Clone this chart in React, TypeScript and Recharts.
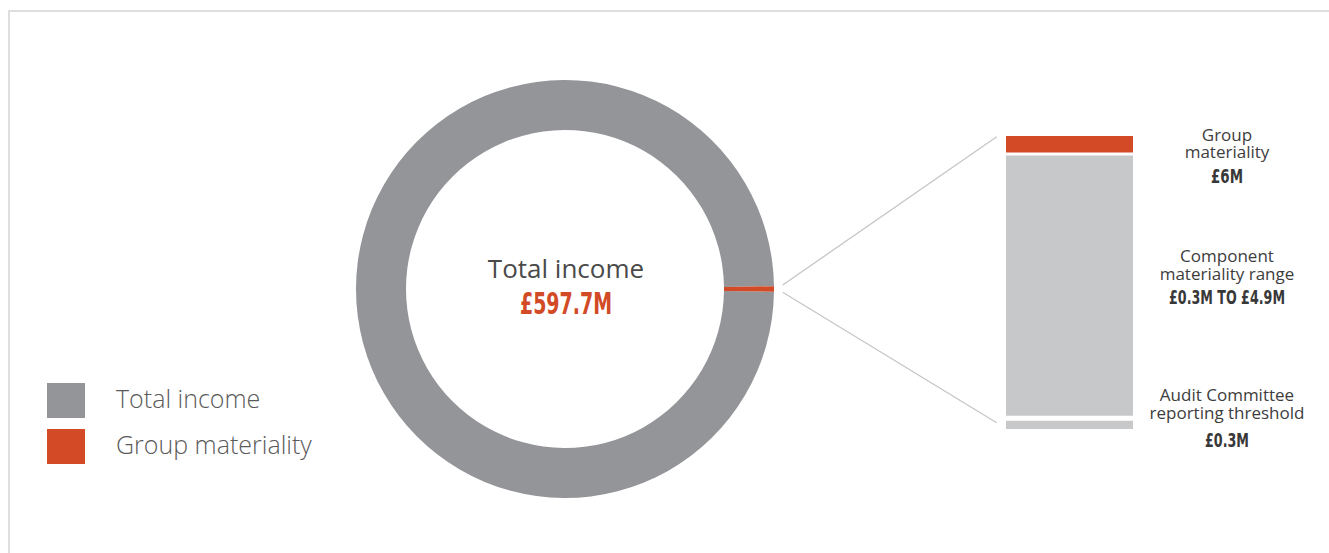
import { PieChart, Pie, Cell, Legend, BarChart, Bar, XAxis, YAxis } from 'recharts'

// donut: share of the ring as drawn (the red sliver is a thin wedge at 3 o'clock)
const incomeNames = ['Total income', 'Group materiality']
const incomeShares = [99.58, 0.42]
const incomeColors = ['#949598', '#d24a26']

// right hand stack, bottom to top (schematic heights, not to scale)
const stackKeys = ['threshold', 'gapLow', 'range', 'gapHigh', 'group']
const stackHeights = [8.5, 5, 260, 3, 16.5]
const stackColors = ['#c7c8ca', 'transparent', '#c7c8ca', 'transparent', '#d24a26']

const centerTitle = 'Total income'
const centerValue = '£597.7M'

const noteTitles = [['Group', 'materiality'], ['Component', 'materiality range'], ['Audit Committee', 'reporting threshold']]
const noteValues = ['£6M', '£0.3M TO £4.9M', '£0.3M']

const pieData = incomeNames.map((name, i) => ({ name, value: incomeShares[i] }))
const stackRow = [Object.fromEntries([['name', 'stack'], ...stackKeys.map((k, i) => [k, stackHeights[i]])])]
const stackTotal = stackHeights.reduce((a, b) => a + b, 0)

const noteLayout = [
  { y1: 141, y2: 158, y3: 183.3, len: 32 },
  { y1: 262, y2: 280, y3: 304, len: 116 },
  { y1: 401, y2: 419, y3: 446.7, len: 44 },
]

function LegendBox({ payload }: any) {
  const items = [...(payload ?? [])].sort(
    (a: any, b: any) => incomeNames.indexOf(a.value) - incomeNames.indexOf(b.value)
  )
  return (
    <div style={{ fontFamily: 'Open Sans', fontWeight: 300, fontSize: 25, color: '#5a5a5a' }}>
      {items.map((it: any) => (
        <div key={it.value} style={{ display: 'flex', alignItems: 'center', height: 35, marginBottom: 11.3 }}>
          <div style={{ width: 38, height: 35, background: it.color }} />
          <span style={{ marginLeft: 31, position: 'relative', top: -3, whiteSpace: 'nowrap' }}>{it.value}</span>
        </div>
      ))}
    </div>
  )
}

export default function App() {
  const condensed = { fontFamily: '"DejaVu Sans Condensed", "Liberation Sans Narrow", sans-serif', fontWeight: 700 }
  return (
    <div style={{ position: 'absolute', left: 0, top: 0, width: 1329, height: 553, overflow: 'hidden', background: '#fff' }}>
      <style>{'body{overflow:hidden}'}</style>
      <div
        style={{
          position: 'absolute', left: 8, top: 10, width: 1330, height: 560,
          borderLeft: '2px solid #dedede', borderTop: '2px solid #dedede',
        }}
      />
      <div style={{ position: 'absolute', left: 0, top: 0 }}>
        <PieChart width={1329} height={553} margin={{ top: 0, right: 0, bottom: 0, left: 0 }}>
          <Pie
            data={pieData}
            dataKey="value"
            nameKey="name"
            cx={565}
            cy={289}
            innerRadius={159}
            outerRadius={209}
            startAngle={-0.75}
            endAngle={-360.75}
            stroke="none"
            isAnimationActive={false}
          >
            {pieData.map((d, i) => (
              <Cell key={d.name} fill={incomeColors[i]} />
            ))}
          </Pie>
          <Legend
            content={<LegendBox />}
            wrapperStyle={{ position: 'absolute', left: 47, top: 383, width: 320 }}
          />
        </PieChart>
      </div>
      <div style={{ position: 'absolute', left: 1006, top: 135.7 }}>
        <BarChart width={126.7} height={293.3} data={stackRow} margin={{ top: 0, right: 0, bottom: 0, left: 0 }} barCategoryGap={0}>
          <XAxis dataKey="name" hide />
          <YAxis hide domain={[0, stackTotal]} />
          {stackKeys.map((k, i) => (
            <Bar key={k} dataKey={k} stackId="s" fill={stackColors[i]} isAnimationActive={false} />
          ))}
        </BarChart>
      </div>
      <svg width={1329} height={553} style={{ position: 'absolute', left: 0, top: 0, pointerEvents: 'none' }}>
        <line x1={782.7} y1={285} x2={996.7} y2={136.7} stroke="#c6c6c6" strokeWidth={1.3} />
        <line x1={782.7} y1={292.3} x2={996.7} y2={422.7} stroke="#c6c6c6" strokeWidth={1.3} />
        <text x={566} y={277.7} textAnchor="middle" fontFamily="Open Sans" fontSize={26} fill="#4a4a4a">
          {centerTitle}
        </text>
        <text x={566} y={314} textAnchor="middle" fontSize={30} textLength={92} lengthAdjust="spacingAndGlyphs" fill="#d24a26" style={condensed}>
          {centerValue}
        </text>
        {noteTitles.map((lines, i) => (
          <g key={i}>
            <text x={1227} y={noteLayout[i].y1} textAnchor="middle" fontFamily="Open Sans" fontSize={17} fill="#3d3d3d">
              {lines[0]}
            </text>
            <text x={1227} y={noteLayout[i].y2} textAnchor="middle" fontFamily="Open Sans" fontSize={17} fill="#3d3d3d">
              {lines[1]}
            </text>
            <text
              x={1227}
              y={noteLayout[i].y3}
              textAnchor="middle"
              fontSize={20}
              textLength={noteLayout[i].len}
              lengthAdjust="spacingAndGlyphs"
              fill="#383838"
              style={condensed}
            >
              {noteValues[i]}
            </text>
          </g>
        ))}
      </svg>
    </div>
  )
}
